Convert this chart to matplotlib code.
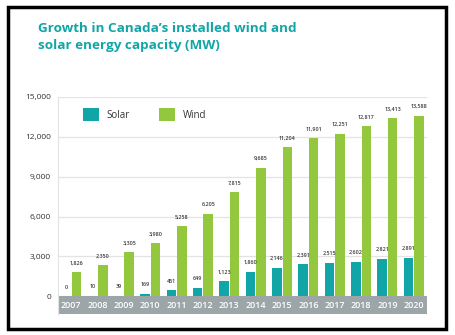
import matplotlib.pyplot as plt
from matplotlib.patches import Rectangle
import numpy as np

years = ['2007', '2008', '2009', '2010', '2011', '2012', '2013',
         '2014', '2015', '2016', '2017', '2018', '2019', '2020']
solar = [0, 10, 39, 169, 451, 649, 1123, 1860, 2146, 2391, 2515, 2602, 2821, 2891]
wind = [1826, 2350, 3305, 3980, 5258, 6205, 7815, 9685, 11204, 11901, 12251, 12817, 13413, 13588]
yticks = [0, 3000, 6000, 9000, 12000, 15000]

teal = '#12a5a7'
green = '#93c83e'
band = '#9ca5a8'

plt.rcParams['font.family'] = ['Open Sans', 'DejaVu Sans']

fig = plt.figure(figsize=(4.55, 3.35), dpi=100)
ax = fig.add_axes([58/455, 1-314/335, 369/455, 217/335])

x = np.arange(len(years))
w = 0.36
ax.bar(x - 0.2, solar, w, color=teal, label='Solar', zorder=3)
ax.bar(x + 0.2, wind, w, color=green, label='Wind', zorder=3)

# value labels
for i in range(len(years)):
    ax.text(x[i] - 0.2, solar[i] + 500, f"{solar[i]:,}", ha='center', va='bottom',
            fontsize=3.9, color='#3a3a3a', fontweight='semibold')
    ax.text(x[i] + 0.2, wind[i] + 500, f"{wind[i]:,}", ha='center', va='bottom',
            fontsize=3.9, color='#3a3a3a', fontweight='semibold')

# grey band with year labels
ax.axhspan(-1340, 0, color=band, zorder=2, lw=0)
for i, yr in enumerate(years):
    ax.text(x[i], -670, yr, ha='center', va='center', color='white',
            fontsize=6.5, fontweight='semibold', zorder=4)

ax.set_xlim(-0.5, len(years) - 0.5)
ax.set_ylim(-1340, 15000)
ax.set_yticks(yticks)
ax.set_yticklabels([f"{t:,}" for t in yticks])
ax.tick_params(axis='y', length=0, labelsize=6, labelcolor='#333333', pad=5)
ax.set_xticks([])
ax.grid(axis='y', color='#e3e3e3', lw=0.9, zorder=0)
for s in ['top', 'right', 'bottom']:
    ax.spines[s].set_visible(False)
ax.spines['left'].set_color('#e3e3e3')
ax.spines['left'].set_linewidth(0.8)

ax.legend(loc='center left', bbox_to_anchor=(0.045, 0.92), ncol=2, frameon=False,
          fontsize=7, handlelength=1.6, handleheight=1.6, handletextpad=0.8,
          columnspacing=3.0, labelcolor='#333333')

fig.text(38/455, 1-37/335, "Growth in Canada\u2019s installed wind and\nsolar energy capacity (MW)",
         color=teal, fontsize=9.7, fontweight='bold', va='center', ha='left',
         linespacing=1.35)

# black frame
fig.patches.append(Rectangle((8/455, 6/335), 438/455, 322/335, transform=fig.transFigure,
                             fill=False, ec='black', lw=2.5))

fig.savefig('out.png', dpi=100)
